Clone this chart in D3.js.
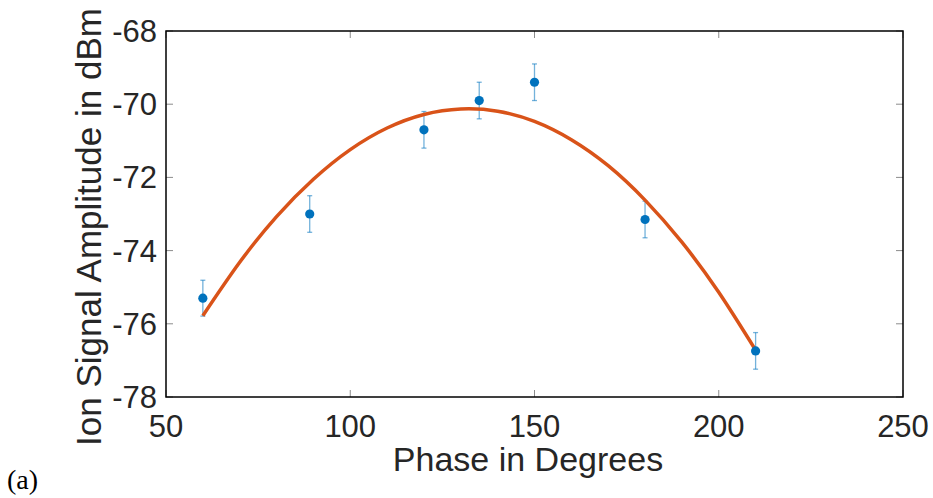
<!DOCTYPE html>
<html>
<head>
<meta charset="utf-8">
<script src="https://cdn.jsdelivr.net/npm/d3@7"></script>
<style>
  html, body { margin: 0; padding: 0; background: #fff; }
  svg { display: block; }
</style>
</head>
<body>
<svg id="chart" width="933" height="498"></svg>
<script>
// Data
const phases = [60, 89, 120, 135, 150, 180, 210];
const amplitudes = [-75.30, -73.00, -70.70, -69.90, -69.40, -73.15, -76.74];
const errors = [0.49, 0.50, 0.50, 0.50, 0.50, 0.50, 0.50];
// Fitted curve samples
const fitPhases = [60, 70, 80, 90, 100, 110, 120, 130, 140, 150, 160, 170, 180, 190, 200, 210];
const fitAmplitudes = [-75.78, -74.32, -73.07, -72.05, -71.24, -70.65, -70.28, -70.13, -70.19, -70.47, -70.97, -71.68, -72.62, -73.77, -75.14, -76.72];
const xTicks = [50, 100, 150, 200, 250];
const yTicks = [-78, -76, -74, -72, -70, -68];

const svg = d3.select("#chart");
const L = 166, R = 903, T = 31, B = 397;
const x = d3.scaleLinear().domain([50, 250]).range([L, R]);
const y = d3.scaleLinear().domain([-78, -68]).range([B, T]);

const axisColor = "#262626";
const font = "'Liberation Sans', Arial, Helvetica, sans-serif";

// Tick marks (inward, all four sides)
const tickLen = 7;
const gTicks = svg.append("g").attr("stroke", "#8c8c8c").attr("stroke-width", 1);
xTicks.forEach(t => {
  gTicks.append("line").attr("x1", x(t)).attr("x2", x(t)).attr("y1", B).attr("y2", B - tickLen);
  gTicks.append("line").attr("x1", x(t)).attr("x2", x(t)).attr("y1", T).attr("y2", T + tickLen);
});
yTicks.forEach(t => {
  gTicks.append("line").attr("x1", L).attr("x2", L + tickLen).attr("y1", y(t)).attr("y2", y(t));
  gTicks.append("line").attr("x1", R).attr("x2", R - tickLen).attr("y1", y(t)).attr("y2", y(t));
});

// Box
svg.append("rect")
  .attr("x", L).attr("y", T).attr("width", R - L).attr("height", B - T)
  .attr("fill", "none").attr("stroke", "#000").attr("stroke-width", 1.5);

// Tick labels
svg.append("g").selectAll("text").data(xTicks).join("text")
  .attr("x", d => x(d)).attr("y", 437)
  .attr("text-anchor", "middle")
  .attr("font-family", font).attr("font-size", 31).attr("fill", axisColor)
  .text(d => d);
svg.append("g").selectAll("text").data(yTicks).join("text")
  .attr("x", 157).attr("y", d => y(d) + 11)
  .attr("text-anchor", "end")
  .attr("font-family", font).attr("font-size", 31).attr("fill", axisColor)
  .text(d => d);

// Axis labels
svg.append("text")
  .attr("x", 528).attr("y", 471)
  .attr("text-anchor", "middle")
  .attr("font-family", font).attr("font-size", 34).attr("fill", axisColor)
  .text("Phase in Degrees");
svg.append("text")
  .attr("transform", "translate(101,227) rotate(-90)")
  .attr("text-anchor", "middle")
  .attr("font-family", font).attr("font-size", 35).attr("fill", axisColor)
  .text("Ion Signal Amplitude in dBm");

svg.append("text")
  .attr("x", 7).attr("y", 489)
  .attr("font-family", "'Liberation Serif', 'Times New Roman', serif")
  .attr("font-size", 28).attr("fill", "#000")
  .text("(a)");

// Error bars
const data = phases.map((p, i) => ({ p, a: amplitudes[i], e: errors[i] }));
const gErr = svg.append("g").attr("stroke", "#0072BD").attr("stroke-opacity", 0.55).attr("stroke-width", 1.3);
data.forEach(d => {
  const cx = x(d.p), y1 = y(d.a + d.e), y2 = y(d.a - d.e);
  gErr.append("line").attr("x1", cx).attr("x2", cx).attr("y1", y1).attr("y2", y2);
  gErr.append("line").attr("x1", cx - 2.5).attr("x2", cx + 2.5).attr("y1", y1).attr("y2", y1);
  gErr.append("line").attr("x1", cx - 2.5).attr("x2", cx + 2.5).attr("y1", y2).attr("y2", y2);
});

// Fit curve
const fit = fitPhases.map((p, i) => [p, fitAmplitudes[i]]);
svg.append("path")
  .datum(fit)
  .attr("fill", "none").attr("stroke", "#D95319").attr("stroke-width", 3.5)
  .attr("d", d3.line().x(d => x(d[0])).y(d => y(d[1])).curve(d3.curveNatural));

// Markers
svg.append("g").selectAll("circle").data(data).join("circle")
  .attr("cx", d => x(d.p)).attr("cy", d => y(d.a)).attr("r", 4.6)
  .attr("fill", "#0072BD");
</script>
</body>
</html>
